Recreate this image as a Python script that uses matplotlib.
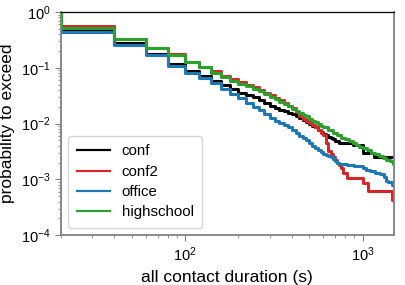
import matplotlib
matplotlib.use("Agg")
import matplotlib.pyplot as plt

plt.rcParams["font.family"] = ["Liberation Sans", "DejaVu Sans"]
plt.rcParams["mathtext.fontset"] = "custom"
plt.rcParams["mathtext.rm"] = "Liberation Sans"
plt.rcParams["mathtext.it"] = "Liberation Sans:italic"
plt.rcParams["mathtext.bf"] = "Liberation Sans:bold"

# contact duration (s) and probability to exceed, per dataset
conf_dur = [10, 20, 40, 60, 80, 100, 120, 140, 160, 180, 200, 220, 240, 260, 280, 300,
            320, 340, 360, 380, 400, 420, 440, 460, 480, 500, 520, 540, 560, 580, 600,
            620, 640, 660, 680, 700, 740, 880, 1000, 1160, 1600]
conf_p = [1.0, 0.485, 0.277, 0.177, 0.117, 0.087, 0.0715, 0.058, 0.049, 0.0412, 0.0358,
          0.0326, 0.0295, 0.0265, 0.0235, 0.021, 0.019, 0.0175, 0.0165, 0.0155, 0.0146,
          0.0136, 0.0127, 0.0118, 0.0108, 0.0100, 0.0092, 0.0085, 0.0078, 0.0072, 0.0066,
          0.0062, 0.0058, 0.0055, 0.0052, 0.0048, 0.0044, 0.0041, 0.0030, 0.00255, 0.00255]

conf2_dur = [10, 20, 40, 60, 80, 100, 120, 140, 160, 180, 200, 220, 240, 260, 280, 300,
             320, 340, 360, 380, 400, 420, 440, 460, 480, 500, 520, 540, 560, 580, 600,
             620, 640, 660, 680, 700, 720, 740, 760, 780, 820, 1000, 1080, 1460, 1600]
conf2_p = [1.0, 0.554, 0.332, 0.228, 0.178, 0.129, 0.105, 0.086, 0.071, 0.062, 0.055,
           0.050, 0.045, 0.040, 0.036, 0.0325, 0.029, 0.026, 0.0235, 0.021, 0.0187,
           0.016, 0.0138, 0.0123, 0.0112, 0.0102, 0.0093, 0.0085, 0.0077, 0.0069, 0.0063,
           0.0045, 0.0032, 0.0028, 0.0025, 0.0022, 0.0020, 0.0018, 0.0016, 0.0013,
           0.00105, 0.00085, 0.00063, 0.00043, 0.00043]

office_dur = [10, 20, 40, 60, 80, 100, 120, 140, 160, 180, 200, 220, 240, 260, 280, 300,
              320, 340, 360, 380, 400, 420, 440, 460, 480, 500, 520, 540, 560, 580, 600,
              620, 640, 660, 680, 700, 720, 740, 780, 820, 900, 960, 1000, 1040, 1100,
              1180, 1260, 1320, 1360, 1400, 1460, 1600]
office_p = [1.0, 0.444, 0.256, 0.168, 0.109, 0.0817, 0.0648, 0.0528, 0.0412, 0.0339,
            0.0284, 0.0231, 0.020, 0.0172, 0.0148, 0.0128, 0.0113, 0.0102, 0.0093, 0.0085,
            0.0077, 0.0068, 0.0061, 0.0055, 0.0050, 0.0045, 0.0040, 0.0036, 0.0033, 0.0031,
            0.0029, 0.0027, 0.0026, 0.0025, 0.0023, 0.0021, 0.0020, 0.0019, 0.00185, 0.0018,
            0.00175, 0.0017, 0.0016, 0.00145, 0.0014, 0.0013, 0.00125, 0.0011, 0.00095,
            0.0009, 0.0008, 0.0008]

highschool_dur = [10, 20, 40, 60, 80, 100, 120, 140, 160, 180, 200, 220, 240, 260, 280,
                  300, 320, 340, 360, 380, 400, 420, 440, 460, 480, 500, 520, 540, 560,
                  580, 600, 640, 680, 720, 760, 800, 840, 880, 920, 960, 1000, 1060, 1120,
                  1180, 1240, 1300, 1360, 1420, 1480, 1600]
highschool_p = [1.0, 0.51, 0.324, 0.224, 0.172, 0.126, 0.102, 0.082, 0.067, 0.058, 0.051,
                0.047, 0.042, 0.038, 0.034, 0.030, 0.027, 0.0245, 0.0225, 0.0205, 0.0185,
                0.017, 0.0157, 0.0145, 0.0134, 0.0122, 0.0113, 0.0105, 0.0098, 0.0091,
                0.0085, 0.0077, 0.0068, 0.0062, 0.0056, 0.0052, 0.0048, 0.0044, 0.0041,
                0.0038, 0.0036, 0.0033, 0.0030, 0.0028, 0.0026, 0.0024, 0.0022, 0.0021,
                0.0019, 0.0018]

series = [
    ("conf", conf_dur, conf_p, "black"),
    ("conf2", conf2_dur, conf2_p, "#d62728"),
    ("office", office_dur, office_p, "#1f77b4"),
    ("highschool", highschool_dur, highschool_p, "#2ca02c"),
]

fig = plt.figure(figsize=(4.06, 2.85), dpi=100)
ax = fig.add_axes([0.150, 0.175, 0.820, 0.783])

for name, dur, p, color in series:
    ax.plot(dur, p, drawstyle="steps-post", color=color, lw=2.2, label=name)

ax.set_xscale("log")
ax.set_yscale("log")
ax.set_xlim(20, 1500)
ax.set_ylim(1e-4, 1)

ax.set_xlabel("all contact duration (s)", fontsize=12.5)
ax.set_ylabel("probability to exceed", fontsize=12.5)

for side in ["left", "bottom", "right"]:
    ax.spines[side].set_color("#808080")
    ax.spines[side].set_linewidth(1.3)
ax.spines["top"].set_color("black")
ax.spines["top"].set_linewidth(0.9)
ax.tick_params(which="both", direction="out", colors="#808080", labelcolor="black",
               labelsize=10.5)
ax.tick_params(which="major", length=4)
ax.tick_params(which="minor", length=2)

leg = ax.legend(loc="lower left", fontsize=10.8, labelspacing=0.42, handlelength=2.2,
                borderpad=0.55)
for line in leg.get_lines():
    line.set_linewidth(1.6)

fig.savefig("out.png", dpi=100)
